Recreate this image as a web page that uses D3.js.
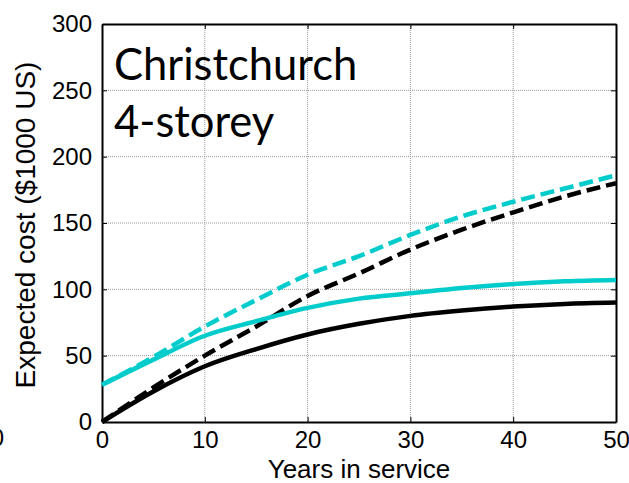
<!DOCTYPE html>
<html>
<head>
<meta charset="utf-8">
<script src="https://cdn.jsdelivr.net/npm/d3@7"></script>
<style>
  body { margin: 0; background: #fff; }
  text { font-family: "Liberation Sans", Arial, sans-serif; }
</style>
</head>
<body>
<div id="chart"></div>
<script>
const years = [0, 5, 10, 15, 20, 25, 30, 35, 40, 45, 50]
const blackSolid = [0, 23, 42, 55, 66, 74, 80, 84, 87, 89, 90]
const cyanSolid = [28, 47, 65, 76, 86, 93, 97, 101, 104, 106, 107]
const blackDashed = [0, 26, 50, 72, 95, 112, 130, 145, 158, 170, 180]
const cyanDashed = [28, 49, 72, 92, 111, 125, 141, 155, 166, 176, 186]
const xTicks = [0, 10, 20, 30, 40, 50]
const yTicks = [0, 50, 100, 150, 200, 250, 300]

const width = 629
const height = 483
const plotLeft = 102, plotRight = 616, plotTop = 24, plotBottom = 422

const svg = d3.select('#chart')
  .append('svg')
  .attr('width', width)
  .attr('height', height)

const x = d3.scaleLinear().domain([0, 50]).range([plotLeft, plotRight])
const y = d3.scaleLinear().domain([0, 300]).range([plotBottom, plotTop])

// grid
svg.append('g')
  .selectAll('line')
  .data(xTicks.slice(1, -1))
  .enter()
  .append('line')
  .attr('x1', d => x(d)).attr('x2', d => x(d))
  .attr('y1', plotTop).attr('y2', plotBottom)
  .attr('stroke', '#999').attr('stroke-width', 1).attr('stroke-dasharray', '1,1')

svg.append('g')
  .selectAll('line')
  .data(yTicks.slice(1, -1))
  .enter()
  .append('line')
  .attr('x1', plotLeft).attr('x2', plotRight)
  .attr('y1', d => y(d)).attr('y2', d => y(d))
  .attr('stroke', '#999').attr('stroke-width', 1).attr('stroke-dasharray', '1,1')

// axes with inward ticks
svg.append('g')
  .attr('transform', `translate(0,${plotBottom})`)
  .call(d3.axisBottom(x).tickValues(xTicks).tickSizeInner(-5).tickSizeOuter(0).tickPadding(9))
svg.append('g')
  .attr('transform', `translate(0,${plotTop})`)
  .call(d3.axisTop(x).tickValues(xTicks).tickSizeInner(-5).tickSizeOuter(0).tickFormat(''))
svg.append('g')
  .attr('transform', `translate(${plotLeft},0)`)
  .call(d3.axisLeft(y).tickValues(yTicks).tickSizeInner(-5).tickSizeOuter(0).tickPadding(10))
svg.append('g')
  .attr('transform', `translate(${plotRight},0)`)
  .call(d3.axisRight(y).tickValues(yTicks).tickSizeInner(-5).tickSizeOuter(0).tickFormat(''))

svg.selectAll('.domain').attr('stroke', '#000').attr('stroke-width', 2)
svg.selectAll('.tick line').attr('stroke', '#000')
svg.selectAll('.tick text')
  .style('font-size', '24px')
  .attr('fill', '#000')
  .style('font-family', '"Liberation Sans", Arial, sans-serif')

// lines
const line = d3.line()
  .x((d, i) => x(years[i]))
  .y(d => y(d))
  .curve(d3.curveMonotoneX)

const series = [
  { values: blackDashed, color: '#000', dash: '14,6' },
  { values: cyanDashed, color: '#00cccc', dash: '14,6' },
  { values: blackSolid, color: '#000', dash: null },
  { values: cyanSolid, color: '#00cccc', dash: null }
]

svg.append('g')
  .selectAll('path')
  .data(series)
  .enter()
  .append('path')
  .attr('d', d => line(d.values))
  .attr('fill', 'none')
  .attr('stroke', d => d.color)
  .attr('stroke-width', 4.5)
  .attr('stroke-dasharray', d => d.dash)

// title
svg.append('text')
  .attr('x', 114).attr('y', 80)
  .style('font-family', 'Lato, "Open Sans", sans-serif')
  .style('font-size', '43.5px')
  .text('Christchurch')
svg.append('text')
  .attr('x', 114).attr('y', 137)
  .style('font-family', 'Lato, "Open Sans", sans-serif')
  .style('font-size', '43.5px')
  .text('4-storey')

// axis labels
svg.append('text')
  .attr('x', (plotLeft + plotRight) / 2)
  .attr('y', 477.5)
  .style('text-anchor', 'middle')
  .style('font-size', '26px')
  .text('Years in service')

svg.append('text')
  .attr('transform', 'translate(35,225) rotate(-90)')
  .style('text-anchor', 'middle')
  .style('font-size', '28px')
  .text('Expected cost ($1000 US)')

// clipped tick label from neighbouring panel
svg.append('text')
  .attr('x', 4).attr('y', 446)
  .style('text-anchor', 'end')
  .style('font-size', '24px')
  .text('0')
</script>
</body>
</html>
